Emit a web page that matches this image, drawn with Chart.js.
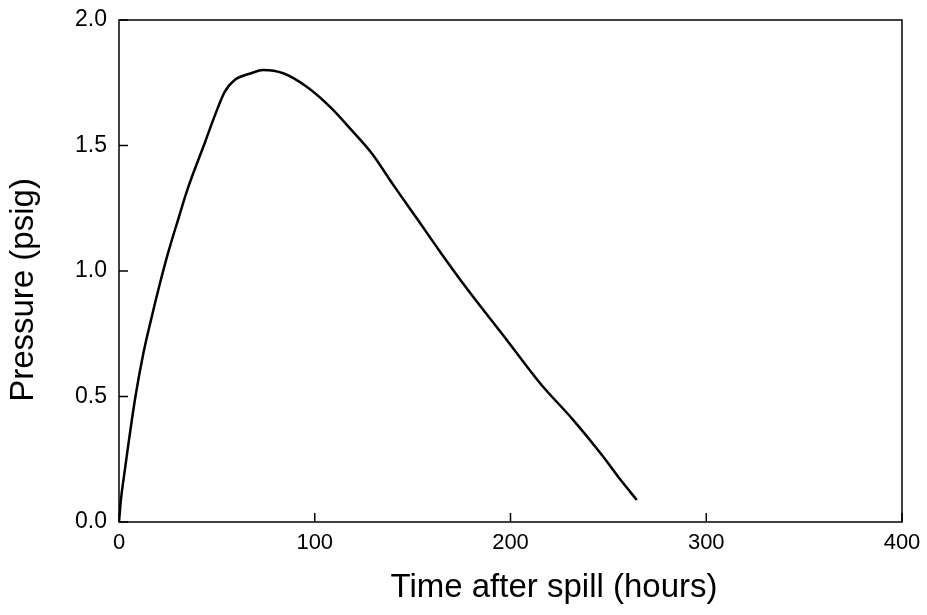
<!DOCTYPE html>
<html>
<head>
    <meta charset="utf-8">
    <title>Pressure after spill</title>
    <script src="https://cdn.jsdelivr.net/npm/chart.js"></script>
    <style>
        html, body { margin: 0; padding: 0; background: #fff; }
        #wrap { width: 927px; height: 615px; }
    </style>
</head>
<body>
    <div id="wrap"><canvas id="pressureChart"></canvas></div>

    <script>
        // values
        const hours = [0, 1, 2.5, 4.8, 8.2, 12.4, 16.5, 20.9, 25, 30, 35.2, 43.8, 49, 54, 59.1, 67.6,
            73.6, 83.9, 95.9, 108.6, 118, 129.1, 140.1, 152.1, 164, 177.6, 198.1, 215.1, 232.1,
            247.4, 256, 264.5];
        const pressure = [0, 0.09, 0.18, 0.31, 0.49, 0.67, 0.81, 0.95, 1.07, 1.2, 1.33, 1.51, 1.62, 1.714,
            1.761, 1.788, 1.801, 1.788, 1.734, 1.648, 1.568, 1.469, 1.343, 1.21, 1.077, 0.931, 0.725,
            0.553, 0.406, 0.26, 0.17, 0.088];
        const xTicks = [0, 100, 200, 300, 400];
        const yTicks = [0, 0.5, 1.0, 1.5, 2.0];
        const xTitle = "Time after spill (hours)";
        const yTitle = "Pressure (psig)";

        const points = hours.map((h, i) => ({ x: h, y: pressure[i] }));

        // box round the plot, short inward ticks, and the two axis titles
        // (titles sit off-centre in the original, so they are placed by hand)
        const frameTicks = {
            id: "frameTicks",
            afterDraw(chart) {
                const { ctx, chartArea: a, scales } = chart;
                ctx.save();
                ctx.strokeStyle = "#000";
                ctx.lineWidth = 1.5;
                ctx.strokeRect(a.left, a.top, a.right - a.left, a.bottom - a.top);
                ctx.beginPath();
                xTicks.forEach(v => {
                    const px = scales.x.getPixelForValue(v);
                    ctx.moveTo(px, a.bottom);
                    ctx.lineTo(px, a.bottom - 9);
                });
                yTicks.forEach(v => {
                    const py = scales.y.getPixelForValue(v);
                    ctx.moveTo(a.left, py);
                    ctx.lineTo(a.left + 9, py);
                });
                ctx.stroke();

                ctx.fillStyle = "#000";
                ctx.font = "33px 'Liberation Sans', Arial, sans-serif";
                ctx.textAlign = "center";
                ctx.textBaseline = "alphabetic";
                ctx.fillText(xTitle, 554, 597);
                ctx.translate(33, 290);
                ctx.rotate(-Math.PI / 2);
                ctx.fillText(yTitle, 0, 0);
                ctx.restore();
            }
        };

        Chart.defaults.font.family = "'Liberation Sans', Arial, sans-serif";
        Chart.defaults.color = "#000";

        new Chart(document.getElementById("pressureChart"), {
            type: "line",
            data: {
                datasets: [{
                    data: points,
                    borderColor: "#000",
                    borderWidth: 2.5,
                    pointRadius: 0,
                    cubicInterpolationMode: "monotone",
                    fill: false
                }]
            },
            options: {
                responsive: true,
                maintainAspectRatio: false,
                animation: false,
                layout: { padding: { left: 0, right: 25, top: 20, bottom: 0 } },
                plugins: { legend: { display: false }, tooltip: { enabled: false } },
                scales: {
                    x: {
                        type: "linear",
                        min: 0,
                        max: 400,
                        afterBuildTicks: s => { s.ticks = xTicks.map(v => ({ value: v })); },
                        afterFit: s => {
                            s.height = 93;
                            s.paddingLeft = 0;
                            s.paddingRight = 0;
                        },
                        grid: { display: false, tickLength: 0 },
                        border: { display: false },
                        ticks: { font: { size: 22 }, padding: 8, maxRotation: 0 }
                    },
                    y: {
                        min: 0,
                        max: 2.0,
                        afterBuildTicks: s => { s.ticks = yTicks.map(v => ({ value: v })); },
                        afterFit: s => {
                            s.width = 119;
                            s.paddingTop = 0;
                            s.paddingBottom = 0;
                        },
                        grid: { display: false, tickLength: 0 },
                        border: { display: false },
                        ticks: {
                            font: { size: 23 },
                            padding: 12,
                            callback: v => Number(v).toFixed(1)
                        }
                    }
                }
            },
            plugins: [frameTicks]
        });
    </script>
</body>
</html>
